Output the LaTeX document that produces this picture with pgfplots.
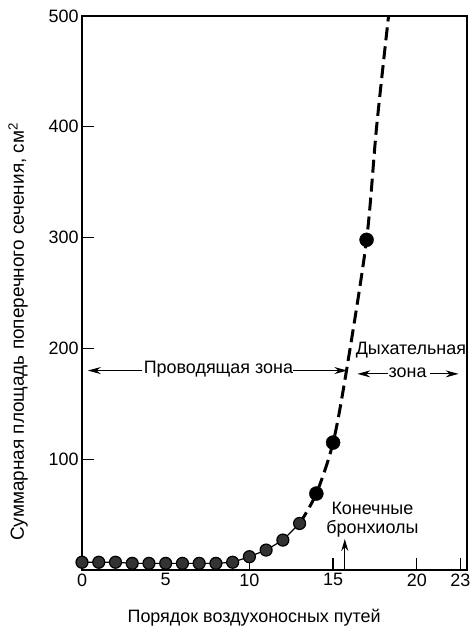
\documentclass[border=0pt]{standalone}
\usepackage{fontspec}
\setmainfont{Liberation Sans}
\usepackage{pgfplots}
\pgfplotsset{compat=1.18}
\usetikzlibrary{arrows.meta}
\newcommand{\fs}{\fontsize{18}{21}\selectfont}
\begin{document}
\begin{tikzpicture}[ar/.style={line width=1.2bp,-{Stealth[length=13bp,width=7bp]}}]
\begin{axis}[
    scale only axis,
    width=385bp, height=554bp,
    xmin=0, xmax=23, ymin=0, ymax=500,
    xtick={0,5,10,15,20,22.6},
    xticklabels={0,5,10,15,20,23},
    ytick={100,200,300,400,500},
    tick align=inside,
    major tick length=12bp,
    xtick pos=bottom, ytick pos=left,
    axis line style={line width=1.8bp},
    tick style={line width=1.2bp, black},
    tick label style={font=\fs},
    /pgf/number format/assume math mode=true,
    xlabel={Порядок воздухоносных путей},
    ylabel={Суммарная площадь поперечного сечения, см\textsuperscript{2}},
    xlabel style={font=\fs, at={(axis description cs:0.447,-0.087)}, anchor=center},
    ylabel style={font=\fontsize{19}{22}\selectfont, at={(axis description cs:-0.166,0.43)}, anchor=center},
]
% conducting airways, solid thin line
\addplot[black, line width=1.2bp, mark=*, mark size=6bp,
    mark options={fill=black!80, draw=black}]
    coordinates {(0,7) (1,7) (2,7) (3,6) (4,6) (5,6) (6,6) (7,6) (8,6) (9,7)
                 (10,12) (11,18) (12,27) (13,42)};
% extrapolated dashed curve
\addplot[black, line width=3bp, dash pattern=on 13bp off 6bp, smooth]
    coordinates {(13,42) (14,69) (15,115) (15.8,180) (17,298) (17.6,400) (18.35,505)};
\addplot[only marks, mark=*, mark size=7bp, black]
    coordinates {(14,69) (15,115) (17,298)};

% zone annotations
\draw[ar] (axis cs:3.6,180) -- (axis cs:0.35,180);
\node[font=\fs] at (axis cs:8.15,181) {Проводящая зона};
\draw[ar] (axis cs:12.6,180) -- (axis cs:15.85,180);
\node[font=\fs] at (axis cs:19.65,198) {Дыхательная};
\draw[ar] (axis cs:18.3,177) -- (axis cs:16.45,177);
\node[font=\fs] at (axis cs:19.45,178) {зона};
\draw[ar] (axis cs:20.8,177) -- (axis cs:22.5,177);

\node[font=\fs] at (axis cs:17.35,56) {Конечные};
\node[font=\fs] at (axis cs:17.35,37) {бронхиолы};
\draw[line width=1.2bp,-{Stealth[length=12bp,width=7bp]}] (axis cs:15.7,0) -- (axis cs:15.7,28);
\end{axis}
\pgfresetboundingbox
\path (current axis.south west) ++(-82bp,-62bp) rectangle ++(474bp,632bp);
\end{tikzpicture}
\end{document}
